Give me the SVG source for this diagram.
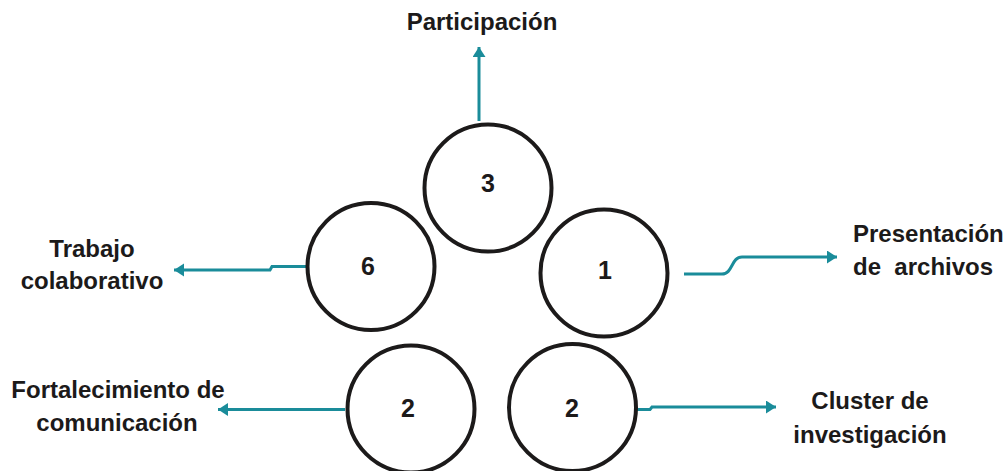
<svg xmlns="http://www.w3.org/2000/svg" width="1007" height="471" viewBox="0 0 1007 471">
  <style>
    .ring { fill: #ffffff; stroke: #1c1a1a; stroke-width: 4; }
    .num { font-family: "Liberation Sans", Arial, sans-serif; font-weight: bold; font-size: 25px; fill: #1c1a1a; text-anchor: middle; }
    .lbl { font-family: "Liberation Sans", Arial, sans-serif; font-weight: bold; font-size: 24px; fill: #1c1a1a; }
    .mid { text-anchor: middle; }
    .link { fill: none; stroke: #1a8c9a; stroke-width: 3; marker-end: url(#head); }
  </style>
  <defs>
    <marker id="head" markerUnits="userSpaceOnUse" markerWidth="11" markerHeight="14" refX="10" refY="6.5" orient="auto">
      <path d="M0,0 L10,6.5 L0,13 Z" fill="#1a8c9a"/>
    </marker>
  </defs>
  <rect width="1007" height="471" fill="#ffffff"/>

  <!-- connectors -->
  <g id="connectors">
    <path class="link" d="M479,121 V47"/>
    <path class="link" d="M306,266.5 H272 L270,270 H174"/>
    <path class="link" d="M684,274 H722 C733,274 731,257 742,257 H837"/>
    <path class="link" d="M345,409.5 H218"/>
    <path class="link" d="M637,409.5 H650 L652,407 H776"/>
  </g>

  <!-- nodes -->
  <g id="node-3">
    <circle class="ring" cx="488" cy="188" r="63.5"/>
    <text class="num" x="488" y="192">3</text>
  </g>
  <g id="node-6">
    <circle class="ring" cx="371" cy="266.5" r="63.5"/>
    <text class="num" x="368" y="275">6</text>
  </g>
  <g id="node-1">
    <circle class="ring" cx="604" cy="273" r="63.5"/>
    <text class="num" x="605" y="279">1</text>
  </g>
  <g id="node-2a">
    <circle class="ring" cx="411" cy="409" r="63.5"/>
    <text class="num" x="408" y="417">2</text>
  </g>
  <g id="node-2b">
    <circle class="ring" cx="572.5" cy="407.5" r="63.5"/>
    <text class="num" x="572" y="417">2</text>
  </g>

  <!-- labels -->
  <g id="label-participacion">
    <text class="lbl mid" x="482" y="30">Participación</text>
  </g>
  <g id="label-trabajo">
    <text class="lbl mid" x="92" y="257">Trabajo</text>
    <text class="lbl mid" x="92" y="289">colaborativo</text>
  </g>
  <g id="label-presentacion">
    <text class="lbl" x="853" y="242">Presentación</text>
    <text class="lbl" x="853" y="275" xml:space="preserve">de  archivos</text>
  </g>
  <g id="label-fortalecimiento">
    <text class="lbl mid" x="118" y="398">Fortalecimiento de</text>
    <text class="lbl mid" x="117" y="431">comunicación</text>
  </g>
  <g id="label-cluster">
    <text class="lbl mid" x="870" y="409">Cluster de</text>
    <text class="lbl mid" x="870" y="443">investigación</text>
  </g>
</svg>
